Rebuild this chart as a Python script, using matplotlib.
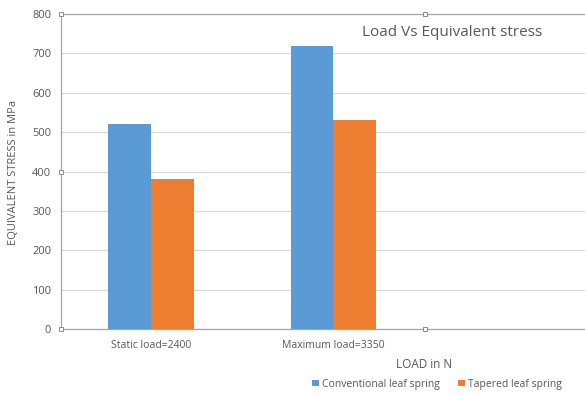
import matplotlib
matplotlib.use("Agg")
import matplotlib.pyplot as plt
import numpy as np

categories = ["Static load=2400", "Maximum load=3350"]
conventional = [520, 720]
tapered = [380, 530]
series_names = ["Conventional leaf spring", "Tapered leaf spring"]
yticks = [0, 100, 200, 300, 400, 500, 600, 700, 800]

plt.rcParams['font.family'] = ['Open Sans', 'DejaVu Sans']
txt = '#595959'

fig = plt.figure(figsize=(5.85, 3.94), dpi=100)
W, H = 585, 394
ax = fig.add_axes([61 / W, (H - 329) / H, 728 / W, 315 / H])

x = np.arange(len(categories))
bw = 0.235
ax.bar(x - bw / 2, conventional, bw, color='#5B9BD5', label=series_names[0], zorder=3)
ax.bar(x + bw / 2, tapered, bw, color='#ED7D31', label=series_names[1], zorder=3)

ax.set_xlim(-0.495, 3.5)
ax.set_ylim(0, 800)
ax.set_yticks(yticks)
ax.set_yticklabels([str(v) for v in yticks], color=txt, fontsize=8)
ax.set_xticks(x)
ax.set_xticklabels(categories, color=txt, fontsize=7.5)
ax.tick_params(axis='both', length=0, pad=7)
ax.tick_params(axis='x', pad=8)
ax.grid(axis='y', color='#d9d9d9', linewidth=0.9, zorder=0)
for s in ['right']:
    ax.spines[s].set_visible(False)
ax.spines['top'].set_color('#a6a6a6')
ax.spines['left'].set_color('#a6a6a6')
ax.spines['bottom'].set_color('#a6a6a6')
for s in ax.spines.values():
    s.set_linewidth(0.9)

fig.text(14 / W, 1 - 172 / H, "EQUIVALENT STRESS in MPa", rotation=90, ha='center', va='center',
         color=txt, fontsize=8)
fig.text(424 / W, 1 - 365 / H, "LOAD in N", ha='center', va='center', color=txt, fontsize=8.5)
fig.text(452 / W, 1 - 33 / H, "Load Vs Equivalent stress", ha='center', va='center', color=txt, fontsize=11)

leg = fig.legend(loc='center', bbox_to_anchor=(437 / W, 1 - 384 / H), ncol=2, frameon=False,
                 fontsize=7.5, handlelength=0.6, handleheight=0.6, handletextpad=0.3, columnspacing=1.8)
for t in leg.get_texts():
    t.set_color(txt)

# selection handles
hx = [61, 425, 61, 61, 425]
hy = [14, 14, 172, 329, 329]
fig.add_artist(plt.Line2D([v / W for v in hx], [1 - v / H for v in hy], linestyle='none', marker='s',
                          markersize=3.5, markerfacecolor='white', markeredgecolor='#8c8c8c',
                          markeredgewidth=0.7, transform=fig.transFigure))

fig.savefig("out.png", dpi=100)
